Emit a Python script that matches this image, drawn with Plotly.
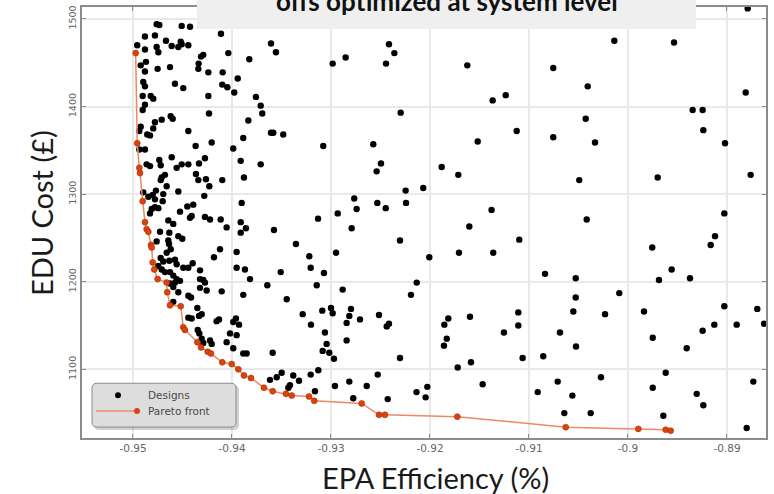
import plotly.graph_objects as go

# ---------------------------------------------------------------------------
# Data: every explored design (EPA efficiency vs EDU cost) and the Pareto front
# ---------------------------------------------------------------------------
design_eff = [
    -0.94761, -0.94734, -0.94508, -0.94424, -0.94111, -0.94879, -0.94778, -0.94957, -0.94879, -0.94761,
    -0.94744, -0.94667, -0.94609, -0.94542, -0.94518, -0.94508, -0.94441, -0.93606, -0.93556, -0.94290,
    -0.94313, -0.94337, -0.94340, -0.94037, -0.93825, -0.94922, -0.94869, -0.94879, -0.94751, -0.94626,
    -0.94239, -0.94094, -0.93942, -0.94896, -0.94879, -0.94576, -0.94492, -0.94098, -0.94047, -0.93977,
    -0.94239, -0.93758, -0.93710, -0.93694, -0.94902, -0.94821, -0.94795, -0.94879, -0.94902, -0.94232,
    -0.93835, -0.94619, -0.94599, -0.94710, -0.94778, -0.94795, -0.94922, -0.94936, -0.94856, -0.94828,
    -0.94441, -0.93606, -0.93583, -0.93482, -0.93886, -0.94205, -0.94367, -0.93987, -0.94936, -0.94879,
    -0.94862, -0.94828, -0.94734, -0.94720, -0.94609, -0.94273, -0.93912, -0.93710, -0.94508, -0.94441,
    -0.94559, -0.94333, -0.94364, -0.94340, -0.94263, -0.94229, -0.94098, -0.93879, -0.94677, -0.94710,
    -0.94720, -0.94660, -0.94768, -0.94542, -0.94896, -0.94845, -0.94801, -0.94778, -0.94700, -0.94694,
    -0.94280, -0.93902, -0.94811, -0.94778, -0.94744, -0.94828, -0.94525, -0.94451, -0.94391, -0.94424,
    -0.94407, -0.94273, -0.94222, -0.94114, -0.94054, -0.94643, -0.94593, -0.93912, -0.93859, -0.93912,
    -0.93576, -0.93354, -0.94727, -0.94633, -0.94542, -0.94502, -0.94761, -0.94643, -0.94636, -0.94619,
    -0.94660, -0.94121, -0.94182, -0.93953, -0.94720, -0.94694, -0.94633, -0.94576, -0.94559, -0.94492,
    -0.94441, -0.94397, -0.94323, -0.94744, -0.94710, -0.94677, -0.94626, -0.94593, -0.94559, -0.94525,
    -0.94323, -0.94290, -0.94273, -0.93953, -0.93869, -0.93818, -0.93508, -0.93643, -0.94542, -0.94441,
    -0.94414, -0.94323, -0.94256, -0.94104, -0.93886, -0.93447, -0.94626, -0.94593, -0.94576, -0.94593,
    -0.94350, -0.94306, -0.94333, -0.94441, -0.94407, -0.94155, -0.94131, -0.93960, -0.93987, -0.93929,
    -0.94346, -0.94330, -0.94306, -0.94290, -0.94222, -0.94205, -0.94020, -0.94054, -0.93953, -0.93987,
    -0.93886, -0.93852, -0.93589, -0.93616, -0.93548, -0.93498, -0.93381, -0.93431, -0.93323, -0.93205,
    -0.93128, -0.93044, -0.93017, -0.92970, -0.92960, -0.92815, -0.92775, -0.93414, -0.93162, -0.92414,
    -0.92360, -0.92444, -0.92983, -0.92852, -0.91623, -0.91367, -0.91235, -0.92296, -0.93078, -0.92573,
    -0.92495, -0.92539, -0.91518, -0.91124, -0.91882, -0.91714, -0.92246, -0.92068, -0.92242, -0.92765,
    -0.92741, -0.92532, -0.92447, -0.92791, -0.92932, -0.93131, -0.92303, -0.91378, -0.91603, -0.92949,
    -0.92007, -0.91707, -0.91361, -0.91098, -0.93219, -0.93205, -0.93071, -0.93144, -0.92134, -0.92192,
    -0.92882, -0.93286, -0.93088, -0.93000, -0.92983, -0.92798, -0.92815, -0.92842, -0.92707, -0.92515,
    -0.92437, -0.92414, -0.93202, -0.93061, -0.93084, -0.92842, -0.92303, -0.91855, -0.91815, -0.91831,
    -0.91859, -0.91596, -0.91108, -0.91108, -0.91253, -0.91064, -0.91720, -0.91586, -0.91468, -0.92639,
    -0.92528, -0.92427, -0.92136, -0.92027, -0.92044, -0.88791, -0.90138, -0.89535, -0.90755, -0.90407,
    -0.88811, -0.89347, -0.89246, -0.90427, -0.89239, -0.90755, -0.90333, -0.89020, -0.90492, -0.89700,
    -0.88761, -0.90417, -0.89027, -0.89121, -0.89165, -0.89755, -0.89559, -0.89687, -0.89374, -0.90838,
    -0.90528, -0.90088, -0.90528, -0.90552, -0.90232, -0.89838, -0.89027, -0.88694, -0.88902, -0.88626,
    -0.89128, -0.89246, -0.89750, -0.89407, -0.90687, -0.90525, -0.90856, -0.90710, -0.90912, -0.90562,
    -0.90273, -0.89750, -0.89619, -0.89306, -0.89239, -0.88734, -0.90643, -0.90377, -0.89643, -0.88801,
]
design_cost = [
    1494, 1493, 1492, 1491, 1483, 1480, 1481, 1470, 1465, 1468,
    1462, 1475, 1469, 1468, 1474, 1471, 1470, 1472, 1462, 1459,
    1457, 1449, 1443, 1461, 1454, 1447, 1451, 1440, 1443, 1445,
    1439, 1439, 1432, 1428, 1423, 1426, 1421, 1425, 1422, 1416,
    1412, 1411, 1401, 1392, 1412, 1412, 1409, 1402, 1396, 1392,
    1384, 1389, 1386, 1385, 1382, 1375, 1377, 1372, 1368, 1367,
    1372, 1370, 1370, 1368, 1364, 1359, 1355, 1352, 1351, 1351,
    1334, 1332, 1339, 1333, 1342, 1341, 1338, 1334, 1334, 1334,
    1330, 1335, 1323, 1316, 1317, 1309, 1316, 1319, 1322, 1319,
    1316, 1309, 1304, 1303, 1302, 1297, 1299, 1294, 1292, 1300,
    1298, 1290, 1283, 1285, 1284, 1278, 1280, 1286, 1288, 1273,
    1275, 1274, 1271, 1271, 1262, 1270, 1266, 1268, 1261, 1256,
    1259, 1243, 1257, 1256, 1252, 1249, 1246, 1247, 1243, 1237,
    1233, 1237, 1228, 1234, 1227, 1223, 1224, 1225, 1220, 1216,
    1216, 1221, 1213, 1218, 1214, 1211, 1211, 1207, 1203, 1201,
    1203, 1202, 1199, 1216, 1214, 1203, 1211, 1196, 1188, 1184,
    1182, 1193, 1190, 1189, 1185, 1180, 1198, 1194, 1199, 1177,
    1170, 1163, 1161, 1159, 1158, 1155, 1157, 1158, 1154, 1151,
    1145, 1141, 1135, 1130, 1133, 1129, 1141, 1131, 1139, 1124,
    1118, 1118, 1119, 1088, 1091, 1096, 1093, 1079, 1087, 1094,
    1099, 1129, 1119, 1112, 1081, 1086, 1067, 1082, 1075, 1471,
    1461, 1449, 1449, 1456, 1447, 1407, 1413, 1393, 1355, 1357,
    1335, 1326, 1360, 1372, 1331, 1322, 1304, 1307, 1290, 1295,
    1283, 1290, 1284, 1261, 1278, 1272, 1247, 1282, 1263, 1233,
    1228, 1233, 1233, 1248, 1229, 1216, 1210, 1196, 1199, 1185,
    1191, 1163, 1167, 1170, 1164, 1169, 1161, 1153, 1157, 1162,
    1149, 1152, 1151, 1142, 1121, 1133, 1113, 1151, 1158, 1135,
    1127, 1160, 1165, 1150, 1142, 1113, 1102, 1108, 1083, 1081,
    1094, 1066, 1074, 1080, 1068, 1512, 1475, 1473, 1444, 1423,
    1416, 1396, 1396, 1386, 1373, 1365, 1359, 1358, 1316, 1319,
    1322, 1271, 1278, 1252, 1242, 1239, 1214, 1202, 1204, 1209,
    1204, 1187, 1182, 1166, 1163, 1166, 1172, 1169, 1151, 1152,
    1151, 1144, 1136, 1124, 1142, 1126, 1115, 1086, 1074, 1070,
    1091, 1079, 1096, 1072, 1059, 1086, 1050, 1050, 1047, 1033,
]

pareto_eff = [
    -0.94973, -0.94957, -0.94936, -0.94929, -0.94902, -0.94879, -0.94862, -0.94845, -0.94818, -0.94811,
    -0.94801, -0.94785, -0.94751, -0.94660, -0.94654, -0.94626, -0.94518, -0.94492, -0.94475, -0.94350,
    -0.94313, -0.94245, -0.94212, -0.94098, -0.94003, -0.93936, -0.93879, -0.93808, -0.93677, -0.93589,
    -0.93455, -0.93397, -0.93222, -0.93169, -0.92690, -0.92515, -0.92455, -0.91724, -0.90629, -0.89896,
    -0.89619, -0.89569,
]
pareto_cost = [
    1461, 1358, 1330, 1324, 1292, 1268, 1260, 1257, 1242, 1239,
    1222, 1214, 1203, 1199, 1188, 1173, 1172, 1148, 1145, 1131,
    1125, 1120, 1118, 1108, 1106, 1100, 1093, 1090, 1079, 1075,
    1072, 1070, 1069, 1064, 1061, 1048, 1048, 1046, 1034, 1032,
    1031, 1030,
]

x_ticks = [-0.95, -0.94, -0.93, -0.92, -0.91, -0.90, -0.89]
x_tick_text = ["-0.95", "-0.94", "-0.93", "-0.92", "-0.91", "-0.9", "-0.89"]
y_ticks = [1100, 1200, 1300, 1400, 1500]
y_tick_text = ["1100", "1200", "1300", "1400", "1500"]

legend_labels = ["Designs", "Pareto front"]
title_text = "offs optimized at system level"
x_title = "EPA Efficiency (%)"
y_title = "EDU Cost (£)"

# ---------------------------------------------------------------------------
# Page geometry (pixels) and helpers to place decorations in paper space
# ---------------------------------------------------------------------------
W, H = 774, 494
ML, MR, MT, MB = 82, 8, 5, 56
PW, PH = W - ML - MR, H - MT - MB

def px(x):
    return (x - ML) / PW

def py(y):
    return (H - MB - y) / PH

def rounded_rect(x0, y0, x1, y1, r):
    rx, ry = r / PW, r / PH
    a, b, c, d = px(x0), py(y1), px(x1), py(y0)
    return (f"M {a+rx},{b} L {c-rx},{b} Q {c},{b} {c},{b+ry} "
            f"L {c},{d-ry} Q {c},{d} {c-rx},{d} L {a+rx},{d} "
            f"Q {a},{d} {a},{d-ry} L {a},{b+ry} Q {a},{b} {a+rx},{b} Z")

DOT = "#000000"
FRONT_LINE = "#ee8866"
FRONT_DOT = "#d8430e"
AXIS_GREY = "#8c8c8c"

fig = go.Figure()

fig.add_trace(go.Scatter(
    x=design_eff, y=design_cost, mode="markers", name=legend_labels[0],
    marker=dict(size=6.4, color=DOT), showlegend=False, cliponaxis=True,
))
fig.add_trace(go.Scatter(
    x=pareto_eff, y=pareto_cost, mode="lines+markers", name=legend_labels[1],
    line=dict(color=FRONT_LINE, width=1.5),
    marker=dict(size=6, color=FRONT_DOT, line=dict(color="#a83208", width=0.6)),
    showlegend=False,
))

axis_common = dict(
    showline=True, linecolor=AXIS_GREY, linewidth=1.5, mirror="ticks",
    ticks="inside", ticklen=4, tickcolor=AXIS_GREY,
    showgrid=True, gridcolor="#e9e9e9", gridwidth=1.5, zeroline=False,
    tickfont=dict(family="DejaVu Sans", size=10.5, color="#666666"),
)

fig.update_xaxes(
    range=[-0.95515, -0.88606], tickmode="array",
    tickvals=x_ticks, ticktext=x_tick_text, **axis_common,
)
fig.update_yaxes(
    range=[1021.6, 1513.6], tickmode="array",
    tickvals=y_ticks, ticktext=y_tick_text, tickangle=-90, **axis_common,
)
fig.update_yaxes(tickfont=dict(family="DejaVu Sans", size=9.5, color="#666666"))

shapes = []
annotations = []

# header band with the (partly cropped) slide title
shapes.append(dict(type="rect", xref="paper", yref="paper",
                   x0=px(197), x1=px(696), y0=py(27), y1=py(-2),
                   fillcolor="#efefef", line=dict(width=0), layer="above"))
annotations.append(dict(text=f"<b>{title_text}</b>", xref="paper", yref="paper",
                        x=px(447), y=py(-1), xanchor="center", yanchor="middle",
                        showarrow=False,
                        font=dict(family="Lato", size=26, color="#111111")))

# axis titles
annotations.append(dict(text=x_title, xref="paper", yref="paper",
                        x=px(435), y=py(478), xanchor="center", yanchor="middle",
                        showarrow=False,
                        font=dict(family="Lato", size=29, color="#1a1a1a")))
annotations.append(dict(text=y_title, xref="paper", yref="paper",
                        x=px(41), y=py(212), xanchor="center", yanchor="middle",
                        textangle=-90, showarrow=False,
                        font=dict(family="Lato", size=29, color="#1a1a1a")))

# legend panel: shadow, rounded box, sample glyphs and labels
shapes.append(dict(type="path", xref="paper", yref="paper",
                   path=rounded_rect(94, 385, 239, 430, 5),
                   fillcolor="rgba(0,0,0,0.18)", line=dict(width=0), layer="above"))
shapes.append(dict(type="path", xref="paper", yref="paper",
                   path=rounded_rect(92, 383, 236, 427, 5),
                   fillcolor="#dddddd", line=dict(color="#8a8a8a", width=1), layer="above"))
shapes.append(dict(type="circle", xref="paper", yref="paper",
                   xsizemode="pixel", ysizemode="pixel",
                   xanchor=px(118), yanchor=py(395), x0=-3, x1=3, y0=-3, y1=3,
                   fillcolor=DOT, line=dict(width=0), layer="above"))
shapes.append(dict(type="line", xref="paper", yref="paper",
                   x0=px(96), x1=px(137), y0=py(411), y1=py(411),
                   line=dict(color=FRONT_LINE, width=1.5), layer="above"))
shapes.append(dict(type="circle", xref="paper", yref="paper",
                   xsizemode="pixel", ysizemode="pixel",
                   xanchor=px(137), yanchor=py(411), x0=-3, x1=3, y0=-3, y1=3,
                   fillcolor=FRONT_DOT, line=dict(width=0), layer="above"))
for label, yy in zip(legend_labels, [395, 411]):
    annotations.append(dict(text=label, xref="paper", yref="paper",
                            x=px(146), y=py(yy), xanchor="left", yanchor="middle",
                            showarrow=False,
                            font=dict(family="DejaVu Sans", size=10.5, color="#4a4a4a")))

fig.update_layout(
    width=W, height=H,
    margin=dict(l=ML, r=MR, t=MT, b=MB),
    paper_bgcolor="white", plot_bgcolor="white",
    showlegend=False,
    shapes=shapes, annotations=annotations,
)

fig.write_html("out.html")
